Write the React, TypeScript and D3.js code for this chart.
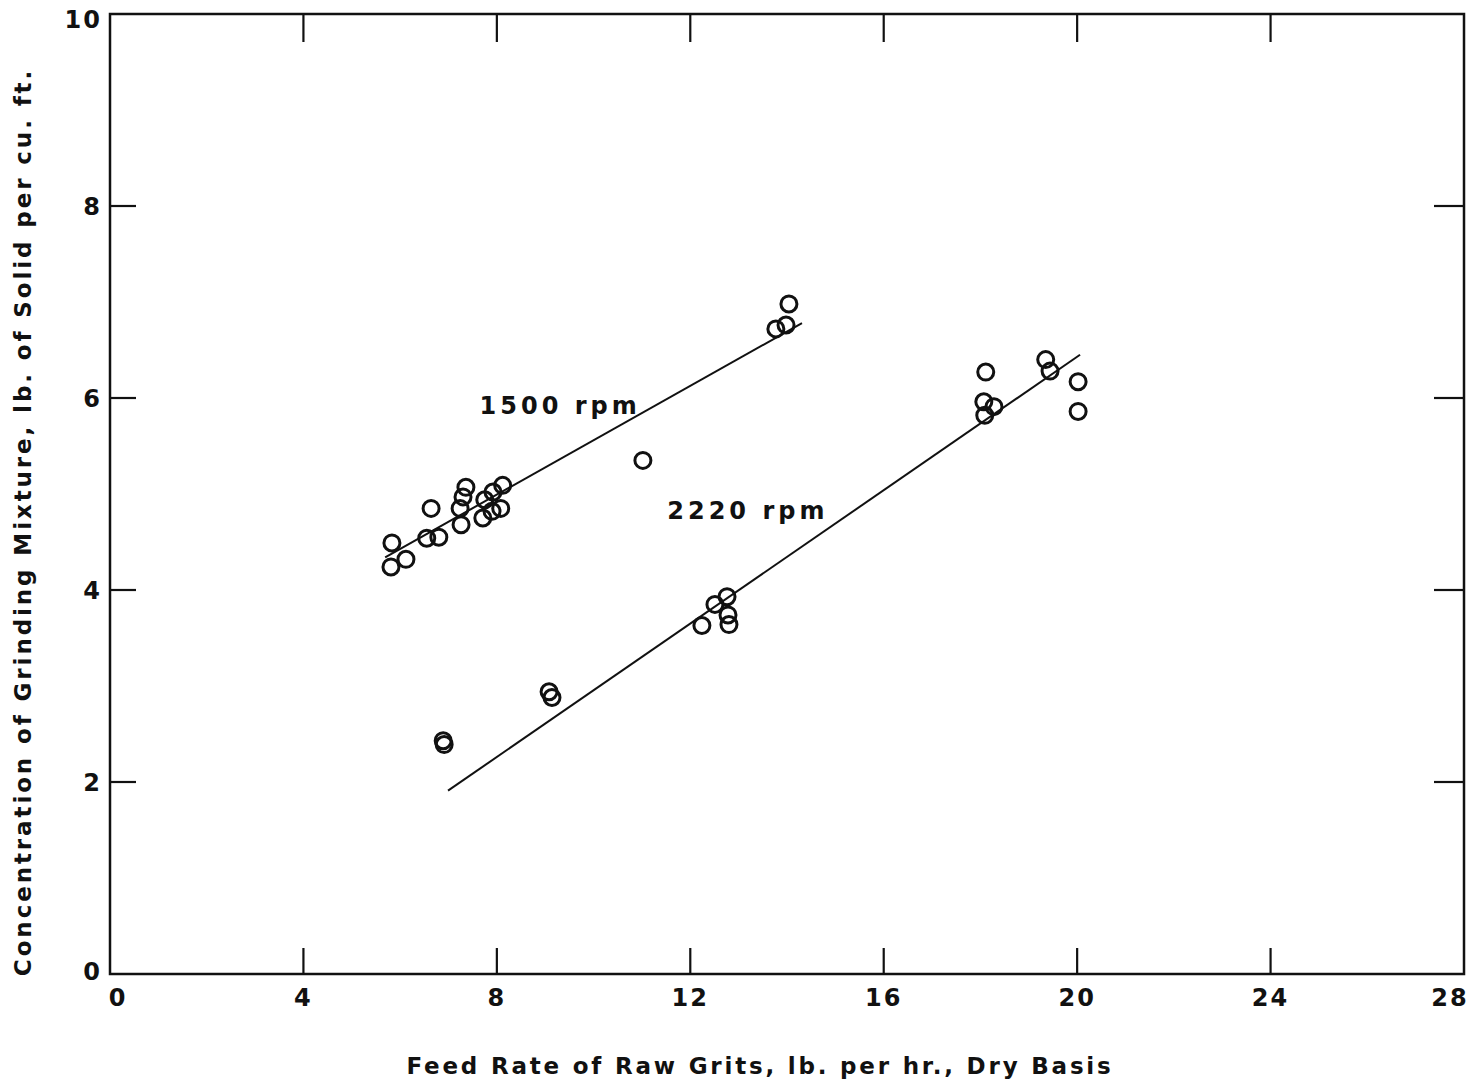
import React from "react";
import * as d3 from "d3";

// Feed rate (lb/hr) vs. concentration (lb solid per cu. ft.)
const xTicks = [0, 4, 8, 12, 16, 20, 24, 28];
const yTicks = [0, 2, 4, 6, 8, 10];

const rpm1500X = [5.83, 5.81, 6.12, 6.55, 6.80, 6.64, 7.26, 7.24, 7.30, 7.36, 7.71, 7.75, 7.92, 8.12, 8.08, 7.90, 11.02, 13.77, 13.98, 14.04];
const rpm1500Y = [4.49, 4.24, 4.32, 4.54, 4.55, 4.85, 4.68, 4.85, 4.97, 5.07, 4.75, 4.94, 5.02, 5.09, 4.85, 4.82, 5.35, 6.72, 6.76, 6.98];

const rpm2220X = [6.89, 6.91, 9.08, 9.14, 12.24, 12.51, 12.76, 12.78, 12.80, 18.11, 18.07, 18.09, 18.28, 19.35, 19.44, 20.02, 20.02];
const rpm2220Y = [2.43, 2.39, 2.94, 2.88, 3.63, 3.85, 3.93, 3.74, 3.64, 6.27, 5.96, 5.82, 5.91, 6.40, 6.28, 6.17, 5.86];

// fitted lines: [x, y] end points
const fit1500: [number, number][] = [[5.69, 4.34], [14.31, 6.78]];
const fit2220: [number, number][] = [[6.99, 1.91], [20.06, 6.45]];

const seriesLabels = [
  { text: "1500 rpm", x: 9.31, y: 5.83 },
  { text: "2220 rpm", x: 13.19, y: 4.74 },
];

const xTitle = "Feed Rate of Raw Grits, lb. per hr., Dry Basis";
const yTitle = "Concentration of Grinding Mixture, lb. of Solid per cu. ft.";

const W = 1482;
const H = 1085;
const L = 110, R = 1464, T = 14, B = 974;

const font = "'DejaVu Sans', 'Open Sans', sans-serif";

export default function App() {
  const x = d3.scaleLinear().domain([0, 28]).range([L, R]);
  const y = d3.scaleLinear().domain([0, 10]).range([B, T]);
  const line = d3.line<[number, number]>().x((d) => x(d[0])).y((d) => y(d[1]));

  const pts1500 = rpm1500X.map((v, i) => [v, rpm1500Y[i]] as [number, number]);
  const pts2220 = rpm2220X.map((v, i) => [v, rpm2220Y[i]] as [number, number]);

  const innerX = xTicks.filter((t) => t > 0 && t < 28);
  const innerY = yTicks.filter((t) => t > 0 && t < 10);

  const xLabelShift = (t: number) => (t === 0 ? 8 : t === 28 ? -14 : 0);

  return (
    <svg width={W} height={H} style={{ display: "block", position: "absolute", left: 0, top: 0, background: "#fff" }}>
      <rect x={0} y={0} width={W} height={H} fill="#fff" />
      {/* frame */}
      <rect x={L} y={T} width={R - L} height={B - T} fill="none" stroke="#111" strokeWidth={2.5} />
      {/* top & bottom ticks */}
      {innerX.map((t) => (
        <g key={"xt" + t}>
          <line x1={x(t)} x2={x(t)} y1={T} y2={T + 28} stroke="#111" strokeWidth={2.2} />
          <line x1={x(t)} x2={x(t)} y1={B} y2={B - 26} stroke="#111" strokeWidth={2.2} />
        </g>
      ))}
      {/* left & right ticks */}
      {innerY.map((t) => (
        <g key={"yt" + t}>
          <line x1={L} x2={L + 26} y1={y(t)} y2={y(t)} stroke="#111" strokeWidth={2.2} />
          <line x1={R} x2={R - 30} y1={y(t)} y2={y(t)} stroke="#111" strokeWidth={2.2} />
        </g>
      ))}
      {/* tick labels */}
      {xTicks.map((t) => (
        <text key={"xl" + t} x={x(t) + xLabelShift(t)} y={B + 32} textAnchor="middle"
          fontFamily={font} fontWeight="bold" fontSize={24} letterSpacing={2} fill="#111">{t}</text>
      ))}
      {yTicks.map((t) => (
        <text key={"yl" + t} x={L - 8} y={y(t) + (t === 10 ? 14 : t === 0 ? 6 : 9)} textAnchor="end"
          fontFamily={font} fontWeight="bold" fontSize={24} letterSpacing={2} fill="#111">{t}</text>
      ))}
      {/* fitted lines */}
      <path d={line(fit1500) || ""} fill="none" stroke="#111" strokeWidth={2} />
      <path d={line(fit2220) || ""} fill="none" stroke="#111" strokeWidth={2} />
      {/* observations */}
      {[...pts1500, ...pts2220].map((p, i) => (
        <circle key={"p" + i} cx={x(p[0])} cy={y(p[1])} r={8} fill="none" stroke="#111" strokeWidth={3} />
      ))}
      {/* series labels */}
      {seriesLabels.map((s) => (
        <text key={s.text} x={x(s.x)} y={y(s.y)} textAnchor="middle" fontFamily={font} fontWeight="bold"
          fontSize={24} letterSpacing={4} fill="#111">{s.text}</text>
      ))}
      {/* axis titles */}
      <text x={760} y={1074} textAnchor="middle" fontFamily={font} fontWeight="bold" fontSize={23}
        letterSpacing={2.8} fill="#111">{xTitle}</text>
      <text transform={`translate(31, ${522}) rotate(-90)`} textAnchor="middle" fontFamily={font}
        fontWeight="bold" fontSize={23} letterSpacing={2.9} fill="#111">{yTitle}</text>
    </svg>
  );
}
